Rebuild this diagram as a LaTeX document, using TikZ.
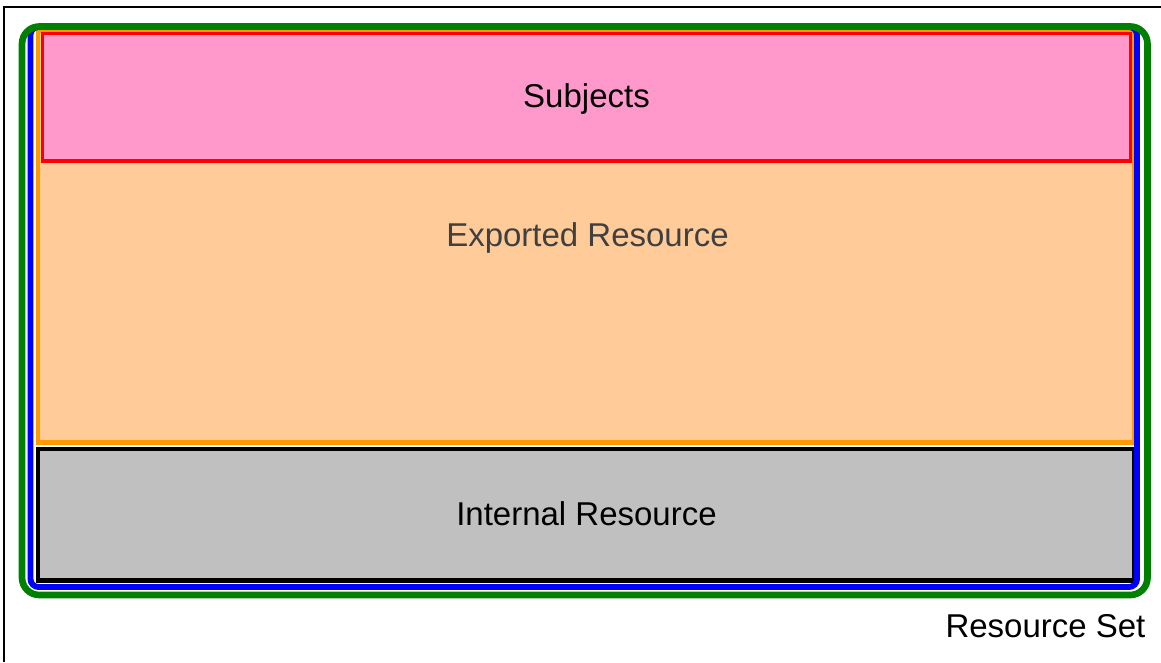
\documentclass[tikz,border=0pt]{standalone}
\usepackage{fontspec}
\setmainfont{Liberation Sans}
\usepackage{xcolor}
\usetikzlibrary{positioning}

\definecolor{subjpink}{HTML}{FF99CC}
\definecolor{exportorange}{HTML}{FFCC99}
\definecolor{exportline}{HTML}{FF9900}
\definecolor{internalgray}{HTML}{C0C0C0}
\definecolor{setgreen}{HTML}{008000}
\definecolor{labelgray}{HTML}{404040}

\begin{document}
\begin{tikzpicture}[
    x=0.75pt, y=-0.75pt,
    exported/.style={rectangle, draw=exportline, fill=exportorange, line width=3.3pt, minimum width=822pt, minimum height=308.6pt, inner sep=0pt},
    internal/.style={rectangle, draw=black, fill=internalgray, line width=3.3pt, minimum width=822pt, minimum height=98.6pt, inner sep=0pt},
    subjects/.style={rectangle, draw=red, fill=subjpink, line width=2.8pt, minimum width=816pt, minimum height=95.6pt, inner sep=0pt},
    setblue/.style={rectangle, draw=blue, line width=4.4pt, minimum width=829.9pt, minimum height=420pt, rounded corners=6pt, inner sep=0pt},
    setgreen/.style={rectangle, draw=setgreen, line width=5pt, minimum width=844.1pt, minimum height=426.4pt, rounded corners=13pt, inner sep=0pt},
    label/.style={font=\fontsize{24.75}{30}\selectfont, anchor=base, inner sep=0pt}
]
\useasboundingbox (0,0) rectangle (1161,662);

% Frame
\draw[line width=1.8pt] (4,662) -- (4,7) -- (1161,7);

% Blocks of the resource set
\node[exported] (exportbox) at (586,236.75) {};
\node[internal] (internalbox) at (586,514.75) {};
\node[subjects] (subjectbox) at (586.5,97.25) {};

% Set borders
\node[setblue] (blueset) at (583.75,307) {};
\node[setgreen] (greenset) at (584.75,310.75) {};

% Labels
\node[label] (subjlabel) at (586.5,107) {Subjects};
\node[label, text=labelgray] (exportlabel) at (587.5,246) {Exported Resource};
\node[label] (internlabel) at (586.5,525) {Internal Resource};
\node[label] (setlabel) at (1045.5,637) {Resource Set};

\end{tikzpicture}
\end{document}
